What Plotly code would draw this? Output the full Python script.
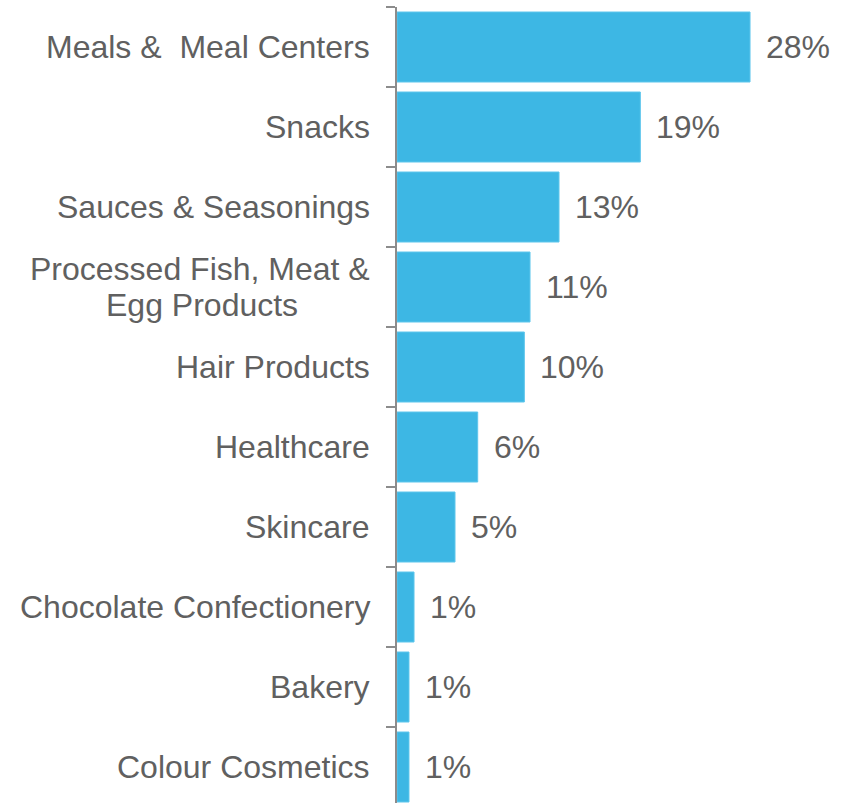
import plotly.graph_objects as go

# Category shares (percent), listed top to bottom
categories = [
    "Meals &  Meal Centers",
    "Snacks",
    "Sauces & Seasonings",
    "Processed Fish, Meat &<br>Egg Products",
    "Hair Products",
    "Healthcare",
    "Skincare",
    "Chocolate Confectionery",
    "Bakery",
    "Colour Cosmetics",
]
shares = [28.0, 19.3, 12.85, 10.55, 10.1, 6.4, 4.6, 1.35, 0.95, 0.95]

BAR = "#3DB7E4"
TEXT = "#606060"
FONT = "Arial"
FS = 32
LINE_PITCH = 36
LABEL_GAP = 25

fig = go.Figure(
    go.Bar(
        x=shares,
        y=categories,
        orientation="h",
        marker=dict(color=BAR, line=dict(color="#5EC6EC", width=1)),
        width=0.875,
        hoverinfo="skip",
    )
)

annotations = []
for cat, v in zip(categories, shares):
    # value label to the right of each bar
    annotations.append(dict(
        x=v, y=cat, xref="x", yref="y", text=f"{v:.0f}%",
        showarrow=False, xanchor="left", yanchor="middle", xshift=14,
        font=dict(family=FONT, size=FS, color=TEXT),
    ))
    # category label left of the axis; wrapped labels are centred line by line
    lines = cat.split("<br>")
    n = len(lines)
    if n == 1:
        annotations.append(dict(
            x=0, y=cat, xref="x", yref="y", text=cat,
            showarrow=False, xanchor="right", yanchor="middle",
            xshift=-LABEL_GAP,
            font=dict(family=FONT, size=FS, color=TEXT),
        ))
    else:
        longest = max(len(s) for s in lines)
        for i, line in enumerate(lines):
            is_long = len(line) == longest
            annotations.append(dict(
                x=0, y=cat, xref="x", yref="y", text=line,
                showarrow=False,
                xanchor="right" if is_long else "center",
                yanchor="middle",
                xshift=-LABEL_GAP if is_long else -195,
                yshift=((n - 1) / 2 - i) * LINE_PITCH,
                font=dict(family=FONT, size=FS, color=TEXT),
            ))

fig.update_layout(
    width=849,
    height=803,
    margin=dict(l=397, r=0, t=7, b=0),
    plot_bgcolor="white",
    paper_bgcolor="white",
    showlegend=False,
    annotations=annotations,
    xaxis=dict(
        range=[0, 35.85],
        visible=False,
        fixedrange=True,
    ),
    yaxis=dict(
        type="category",
        categoryorder="array",
        categoryarray=categories,
        range=[9.45, -0.5],
        showticklabels=False,
        showline=True,
        linecolor="#8C8C8C",
        linewidth=2,
        ticks="outside",
        tickson="boundaries",
        ticklen=9,
        tickwidth=2,
        tickcolor="#8C8C8C",
        showgrid=False,
        zeroline=False,
        fixedrange=True,
    ),
)

fig.write_html("out.html")
